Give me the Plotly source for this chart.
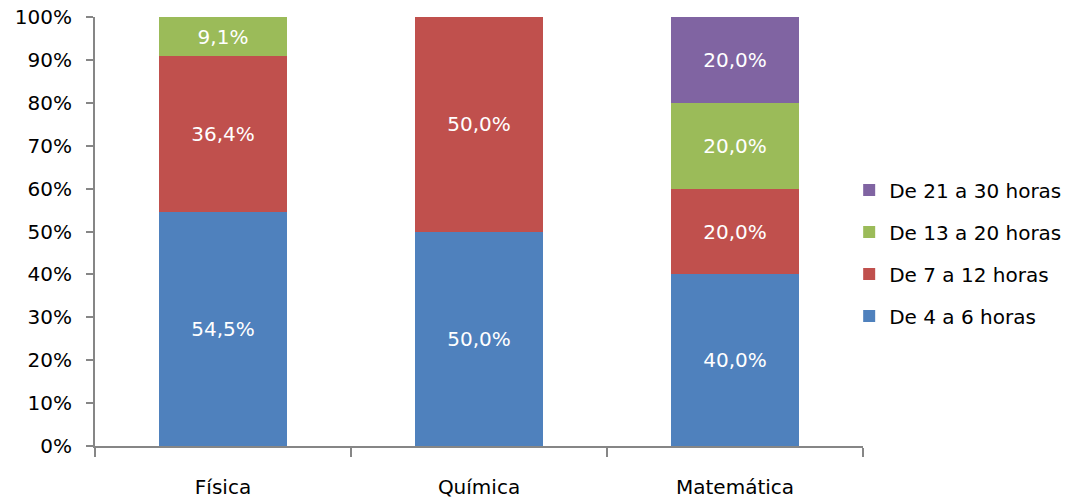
import plotly.graph_objects as go

categories = ["Física", "Química", "Matemática"]
series_names = ["De 4 a 6 horas", "De 7 a 12 horas", "De 13 a 20 horas", "De 21 a 30 horas"]
v_4_6 = [54.5, 50.0, 40.0]
v_7_12 = [36.4, 50.0, 20.0]
v_13_20 = [9.1, 0.0, 20.0]
v_21_30 = [0.0, 0.0, 20.0]
colors = ["#4F81BD", "#C0504D", "#9BBB59", "#8064A2"]
y_ticks = [0, 10, 20, 30, 40, 50, 60, 70, 80, 90, 100]

FONT = "DejaVu Sans"
FS = 20
fig = go.Figure()
for i, (name, vals, col) in enumerate(zip(series_names, [v_4_6, v_7_12, v_13_20, v_21_30], colors)):
    ys = [v if v > 0 else None for v in vals]
    txt = [(f"{v:.1f}".replace(".", ",") + "%") if v > 0 else "" for v in vals]
    fig.add_trace(go.Bar(
        x=categories, y=ys, name=name, marker=dict(color=col, line=dict(width=0)),
        text=txt, textposition="inside", insidetextanchor="middle", textangle=0,
        textfont=dict(color="white", size=FS, family=FONT), legendgroup=f"g{i}",
        legendrank=100 - i,
    ))

fig.update_layout(
    barmode="stack", bargap=0.5,
    width=1072, height=502,
    margin=dict(l=95, r=209, t=17, b=56, autoexpand=False),
    plot_bgcolor="white", paper_bgcolor="white",
    font=dict(family=FONT, size=FS, color="black"),
    uniformtext=dict(mode=False),
    legend=dict(x=0.982, xanchor="left", y=0.45, yanchor="middle",
                traceorder="grouped", tracegroupgap=13,
                font=dict(size=FS, family=FONT)),
    xaxis=dict(showline=True, linecolor="#868686", linewidth=2, ticks="outside",
               tickson="boundaries", ticklen=9, tickcolor="#868686", tickwidth=2,
               ticklabelstandoff=22, showgrid=False, automargin=False),
    yaxis=dict(range=[0, 100], tickvals=y_ticks, ticktext=[f"{t}%" for t in y_ticks],
               showline=True, linecolor="#868686", linewidth=2, ticks="outside",
               ticklen=7, tickcolor="#868686", tickwidth=2, showgrid=False,
               zeroline=False, ticklabelstandoff=10, automargin=False),
)
fig.write_html("out.html")
